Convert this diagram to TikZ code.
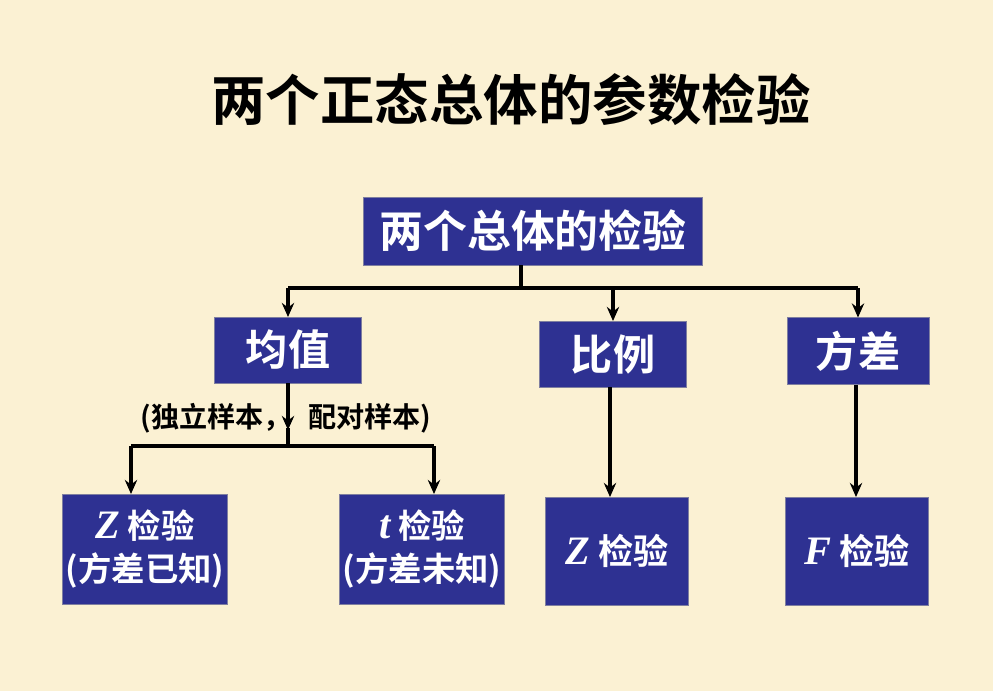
\documentclass[tikz,border=0pt]{standalone}
\usepackage{fontspec}
\setmainfont{Liberation Serif}
\newfontfamily\cjk{Noto Sans CJK SC}[BoldFont={* Bold}]
\usetikzlibrary{arrows.meta,positioning}
\definecolor{paperBg}{HTML}{FBF1D3}
\definecolor{boxBlue}{HTML}{2E3192}
\definecolor{boxEdge}{HTML}{7F7FA0}

\begin{document}
\begin{tikzpicture}[
  x=0.02cm, y=-0.02cm,
  every node/.style={font=\cjk\bfseries},
  testbox/.style={draw=boxEdge, fill=boxBlue, text=white, align=center, inner sep=0pt, outer sep=0pt},
  link/.style={line width=1.8pt, black},
  arr/.style={-{Stealth[length=8pt,width=7pt]}, line width=1.8pt, black}
]
% background
\fill[paperBg] (0,0) rectangle (993,691);
\useasboundingbox (0,0) rectangle (993,691);

% title
\node[font=\cjk\bfseries\fontsize{31}{34}\selectfont] (title) at (511,100) {两个正态总体的参数检验};

% top level
\node[testbox, minimum width=6.78cm, minimum height=1.36cm, font=\cjk\bfseries\fontsize{25}{28}\selectfont] (both) at (533,231) {两个总体的检验};

% second level
\node[testbox, minimum width=2.94cm, minimum height=1.32cm, font=\cjk\bfseries\fontsize{24}{27}\selectfont] (mean) at (288,350) {均值};
\node[testbox, minimum width=2.94cm, minimum height=1.32cm, font=\cjk\bfseries\fontsize{24}{27}\selectfont] (ratio) at (613,354) {比例};
\node[testbox, minimum width=2.84cm, minimum height=1.34cm, font=\cjk\bfseries\fontsize{24}{27}\selectfont] (var) at (858,351) {方差};

% third level
\node[testbox, minimum width=3.3cm, minimum height=2.2cm, font=\cjk\bfseries\fontsize{19}{25}\selectfont] (zknown) at (145,549) {{\normalfont\bfseries\itshape\fontsize{23}{25}\selectfont Z} 检验\\(方差已知)};
\node[testbox, minimum width=3.3cm, minimum height=2.2cm, font=\cjk\bfseries\fontsize{19}{25}\selectfont] (tunk) at (422,549) {{\normalfont\bfseries\itshape\fontsize{23}{25}\selectfont t} 检验\\(方差未知)};
\node[testbox, minimum width=2.86cm, minimum height=2.16cm, font=\cjk\bfseries\fontsize{20}{25}\selectfont] (zprop) at (617,551) {{\normalfont\bfseries\itshape\fontsize{23}{25}\selectfont Z} 检验};
\node[testbox, minimum width=2.86cm, minimum height=2.16cm, font=\cjk\bfseries\fontsize{20}{25}\selectfont] (ftest) at (857,551) {{\normalfont\bfseries\itshape\fontsize{23}{25}\selectfont F} 检验};

% connectors from top
\coordinate (split) at (521,288);
\draw[link] (both.south -| split) -- (split);
\draw[link] (mean.north |- split) -- (var.north |- split);
\draw[arr] (mean.north |- split) -- (mean.north);
\draw[arr] (ratio.north |- split) -- (ratio.north);
\draw[arr] (var.north |- split) -- (var.north);

% mean branch
\node[font=\cjk\bfseries\fontsize{16}{18}\selectfont] (pair) at (286,418) {(独立样本，\hspace{0.6em}配对样本)};
\coordinate (msplit) at (288,446);
\coordinate (zleft) at (131,446);
\coordinate (tright) at (434,446);
\draw[arr] (mean.south) -- (288,430);
\draw[link] (288,428) -- (msplit);
\draw[link] (zleft) -- (tright);
\draw[arr] (zleft) -- (zleft |- zknown.north);
\draw[arr] (tright) -- (tright |- tunk.north);

% right branches
\coordinate (rx) at (610,0);
\coordinate (vx) at (856,0);
\draw[arr] (rx |- ratio.south) -- (rx |- zprop.north);
\draw[arr] (vx |- var.south) -- (vx |- ftest.north);
\end{tikzpicture}
\end{document}
